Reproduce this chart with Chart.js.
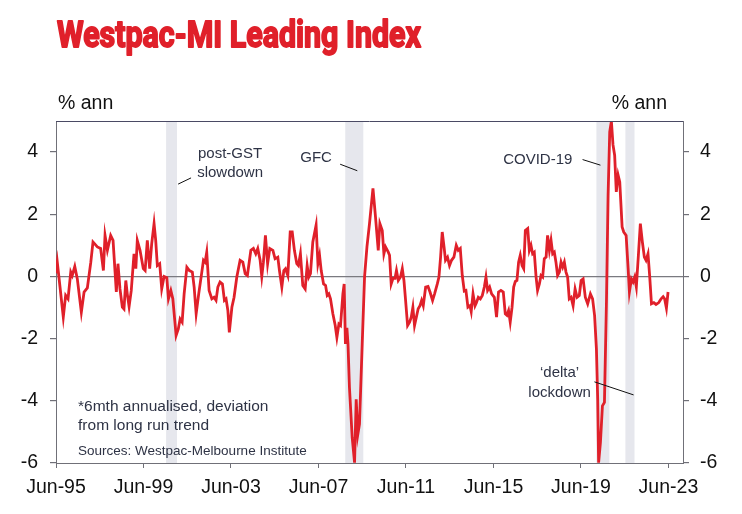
<!DOCTYPE html>
<html><head><meta charset="utf-8">
<script src="https://cdn.jsdelivr.net/npm/chart.js@4.4.1/dist/chart.umd.min.js"></script>
<style>html,body{margin:0;padding:0;background:#fff;}#wrap{position:relative;width:742px;height:514px;}</style>
</head><body><div id="wrap"><canvas id="c" width="742" height="514"></canvas></div>
<script>
// months since Jun-95 (x positions) and index values (% ann)
const monthsSinceJun95 = [
0,0.7,2.2,4.0,5.3,6.6,8.1,8.9,10.3,11.7,
13.9,15.4,17.2,19.1,20.3,22.7,24.5,26.0,26.9,28.2,
30.0,31.3,33.1,34.0,35.1,36.4,37.3,38.3,39.1,40.1,
41.3,42.8,43.8,44.6,46.1,47.9,48.9,50.1,51.4,52.5,
53.8,54.7,55.6,56.9,58.0,59.3,60.8,61.7,63.0,64.1,
65.9,67.1,68.1,69.2,70.3,71.8,73.2,74.8,75.8,76.9,
78.3,80.0,80.9,81.8,82.7,84.0,85.5,86.7,87.8,88.8,
90.0,91.3,92.4,93.3,94.3,95.1,96.5,97.7,99.2,101.0,
102.5,103.8,105.0,106.9,108.3,109.6,110.7,112.0,112.9,113.8,
114.9,116.1,117.3,119.0,120.2,121.7,122.6,123.9,125.0,125.9,
127.2,128.5,129.6,130.8,132.1,133.0,134.1,135.4,136.7,137.8,
138.7,139.6,140.9,142.7,143.7,144.6,145.5,146.8,147.9,148.8,
149.7,150.6,151.9,153.2,154.1,155.2,156.1,157.4,158.1,158.8,
159.6,160.2,161.0,162.5,163.8,164.7,165.6,166.5,168.0,169.3,
170.6,172.0,173.9,175.3,176.8,177.7,179.0,179.9,180.8,182.3,
183.0,183.9,184.9,186.0,186.8,187.8,189.0,190.0,190.9,191.8,
192.9,194.0,194.9,195.8,196.7,197.7,198.7,199.7,200.6,201.5,
202.8,204.1,205.2,206.6,207.7,209.2,210.1,211.0,211.9,212.9,
213.7,214.8,215.9,217.0,218.3,219.6,220.7,221.8,222.9,224.0,
224.9,226.0,227.1,227.8,228.8,229.9,230.6,231.7,232.8,233.9,
235.0,235.9,236.8,237.9,239.0,240.5,241.7,242.8,244.1,245.4,
246.5,247.4,248.3,249.2,250.2,251.1,252.0,252.9,253.8,254.7,
255.7,256.6,257.5,258.8,259.7,260.6,261.5,262.4,263.4,264.2,
265.2,266.1,267.0,267.9,268.9,269.7,270.7,271.6,272.5,273.4,
274.3,275.2,276.2,277.1,278.0,278.9,279.8,280.7,281.6,282.6,
283.7,284.8,285.9,287.1,288.1,289.2,290.4,291.7,293.2,294.4,
295.5,296.5,297.2,297.7,298.7,299.8,300.9,302.0,302.9,303.8,
304.7,305.6,306.5,307.4,308.4,309.3,310.6,311.5,312.8,313.9,
314.6,315.7,316.6,317.5,318.4,319.4,320.6,321.7,322.8,323.7,
324.8,325.7,326.7,328.0,329.2,330.7,332.0,333.1,333.9,334.9,
335.8
];
const leadingIndex = [
0.1,0.46,-0.34,-1.31,-0.61,-0.72,0.14,0.03,0.32,-0.08,
-1.15,-0.5,-0.37,0.46,1.11,0.95,0.9,0.19,1.32,0.84,
1.32,1.16,-0.5,0.41,-0.4,-0.99,-1.05,-0.13,-0.56,-0.97,
-0.45,0.73,0.25,1.16,0.84,0.25,0.19,1.16,0.25,1.05,
1.7,1.16,0.35,0.41,-0.4,0.0,-0.04,-0.72,-0.45,-0.72,
-1.9,-1.69,-1.37,-1.47,-0.56,0.3,0.19,0.14,-0.34,-1.2,
-0.56,0.14,0.52,0.46,0.78,-0.45,-0.72,-0.67,-0.77,-0.34,
-0.18,-0.24,-0.77,-0.72,-1.1,-1.8,-0.99,-0.67,-0.02,0.52,
0.46,0.09,0.03,0.84,0.9,0.73,0.9,0.52,0.0,0.46,
1.32,0.41,0.9,0.84,0.57,0.62,0.19,-0.34,0.19,0.25,
0.03,1.43,1.43,0.84,0.41,0.35,0.73,-0.29,-0.4,0.35,
-0.02,0.09,1.11,1.65,0.41,0.68,0.19,-0.24,-0.29,-0.61,
-0.56,-0.72,-1.2,-1.58,-1.96,-1.53,-1.58,-0.56,-0.24,-2.17,
-1.65,-2.17,-3.57,-5.18,-5.99,-3.95,-5.08,-4.75,-2.17,0.0,
0.95,1.7,2.83,1.91,0.84,1.7,1.48,0.73,0.95,0.78,
0.68,-0.24,-0.06,-0.06,0.19,-0.13,-0.02,0.25,-0.13,-0.77,
-1.58,-1.47,-1.31,-0.99,-1.58,-1.31,-1.04,-0.94,-0.77,-0.94,
-0.34,-0.32,-0.5,-0.77,-0.56,-0.24,-0.02,0.62,1.43,0.95,
0.52,0.62,0.35,0.52,0.62,1.0,0.84,0.9,0.03,-0.47,
-0.45,-0.99,-0.94,-1.13,-0.56,-0.94,-0.85,-0.67,-0.72,-0.61,
-0.34,-0.02,-0.45,-0.34,-0.56,-0.67,-1.31,-0.5,-0.45,-0.5,
-1.2,-1.25,-1.1,-1.47,-0.99,-0.34,-0.16,-0.13,0.46,0.68,
0.35,0.25,1.48,1.54,0.84,1.0,0.73,0.78,-0.02,-0.45,
-0.24,0.03,-0.02,0.57,0.62,1.32,0.84,1.16,0.73,0.78,
0.46,0.03,0.14,0.46,0.3,0.46,0.14,-0.02,-0.72,-0.67,
-0.94,-0.4,-0.67,-0.61,-0.13,-0.08,-0.67,-0.88,-0.56,-0.72,
-1.26,-2.33,-3.95,-5.99,-5.34,-4.16,-4.05,-0.83,2.61,4.65,
5.0,4.23,3.9,2.72,3.26,3.04,1.59,1.43,1.32,0.25,
-0.5,-0.08,-0.18,-0.02,-0.34,0.57,1.7,1.11,0.62,0.52,
0.73,0.03,-0.88,-0.84,-0.9,-0.84,-0.72,-0.65,-0.72,-1.02,
-0.5
];
const tickMonths = [0,48,96,144,192,240,288,336];
const tickLabels = ['Jun-95','Jun-99','Jun-03','Jun-07','Jun-11','Jun-15','Jun-19','Jun-23'];
const yTicks = [-6,-4,-2,0,2,4];
// shaded episodes (months since Jun-95)
const bandStarts = [60.4,158.7,296.5,312.4];
const bandEnds   = [66.4,168.6,303.6,317.4];
const titleText = 'Westpac-MI Leading Index';
const unitText = '% ann';

const RED = '#e0202a';
const AX = '#707078';
const TXT = '#111111';
const ANN = '#2e3345';
const FONT = '"Liberation Sans", Arial, sans-serif';

function txt(ctx, s, x, y, font, color, align){
  ctx.font = font; ctx.fillStyle = color; ctx.textAlign = align || 'center'; ctx.textBaseline = 'middle';
  ctx.fillText(s, x, y);
}
function seg(ctx, x0, y0, x1, y1){
  ctx.strokeStyle = '#111'; ctx.lineWidth = 1; ctx.beginPath(); ctx.moveTo(x0,y0); ctx.lineTo(x1,y1); ctx.stroke();
}

const deco = {
  id: 'deco',
  beforeDraw(chart){
    const {ctx, chartArea:a, scales:{x}} = chart;
    ctx.save();
    ctx.fillStyle = '#e6e7ed';
    bandStarts.forEach((s,i)=>{
      const x0 = x.getPixelForValue(s), x1 = x.getPixelForValue(bandEnds[i]);
      ctx.fillRect(x0, a.top, x1-x0, a.bottom-a.top);
    });
    ctx.restore();
  },
  afterDraw(chart){
    const {ctx, chartArea:a, scales:{x, y}} = chart;
    const X = v => x.getPixelForValue(v), Y = v => y.getPixelForValue(v);
    ctx.save();
    // top frame line
    ctx.strokeStyle = '#4a4a64'; ctx.lineWidth = 1;
    ctx.beginPath(); ctx.moveTo(a.left, a.top+0.5); ctx.lineTo(a.right, a.top+0.5); ctx.stroke();
    // title (heavy, condensed)
    ctx.font = 'bold 36px Roboto, "Liberation Sans", sans-serif';
    ctx.fillStyle = RED; ctx.strokeStyle = RED; ctx.lineWidth = 1.8; ctx.lineJoin = 'round';
    ctx.textAlign = 'left'; ctx.textBaseline = 'alphabetic';
    const w = ctx.measureText(titleText).width;
    ctx.save(); ctx.translate(57, 47); ctx.scale(364/w, 1);
    ctx.fillText(titleText, 0, 0); ctx.strokeText(titleText, 0, 0); ctx.restore();
    // unit labels
    txt(ctx, unitText, a.left+2, a.top-17, '19.5px '+FONT, TXT, 'left');
    txt(ctx, unitText, a.right-16, a.top-17, '19.5px '+FONT, TXT, 'right');
    // annotations
    const f = '15px '+FONT;
    txt(ctx, 'post-GST', X(95.5), Y(3.94), f, ANN);
    txt(ctx, 'slowdown', X(95.5), Y(3.33), f, ANN);
    seg(ctx, X(67.0), Y(2.97), X(74.1), Y(3.17));
    txt(ctx, 'GFC', X(142.7), Y(3.81), f, ANN);
    seg(ctx, X(155.9), Y(3.61), X(165.3), Y(3.40));
    txt(ctx, 'COVID-19', X(264.3), Y(3.74), f, ANN);
    seg(ctx, X(288.9), Y(3.76), X(298.7), Y(3.58));
    txt(ctx, '\u2018delta\u2019', X(276.3), Y(-3.09), f, ANN);
    txt(ctx, 'lockdown', X(276.3), Y(-3.73), f, ANN);
    seg(ctx, X(295.4), Y(-3.39), X(316.9), Y(-3.81));
    // footnotes
    txt(ctx, '*6mth annualised, deviation', X(12.1), Y(-4.19), '15.5px '+FONT, ANN, 'left');
    txt(ctx, 'from long run trend', X(12.1), Y(-4.81), '15.5px '+FONT, ANN, 'left');
    txt(ctx, 'Sources: Westpac-Melbourne Institute', X(12.1), Y(-5.61), '13.5px '+FONT, ANN, 'left');
    ctx.restore();
  }
};

const yAxisCommon = (pos, width, pad) => ({
  type: 'linear', position: pos, min: -6, max: 5,
  afterBuildTicks: s => { s.ticks = yTicks.map(v => ({value: v})); },
  afterFit: s => { s.width = width; },
  border: {display: true, color: AX, width: 1},
  grid: {
    drawOnChartArea: pos === 'left',
    color: c => (c.tick && c.tick.value === 0) ? '#7a7a80' : 'rgba(0,0,0,0)',
    lineWidth: 1.2,
    drawTicks: true, tickLength: 6, tickColor: AX
  },
  ticks: {color: TXT, font: {family: FONT, size: 19.5}, padding: pad, callback: v => String(v)}
});

new Chart(document.getElementById('c'), {
  type: 'line',
  data: {
    datasets: [{
      label: 'Westpac-MI Leading Index',
      data: monthsSinceJun95.map((m,i) => ({x: m, y: leadingIndex[i]})),
      borderColor: RED, borderWidth: 2.8, pointRadius: 0, tension: 0, fill: false
    }]
  },
  options: {
    responsive: false, animation: false, devicePixelRatio: 1,
    layout: {padding: {top: 121, left: 0, right: 0, bottom: 0}},
    plugins: {legend: {display: false}, tooltip: {enabled: false}, title: {display: false}},
    scales: {
      x: {
        type: 'linear', position: 'bottom', min: 0, max: 344,
        afterBuildTicks: s => { s.ticks = tickMonths.map(v => ({value: v})); },
        afterFit: s => { s.height = 51; },
        border: {display: true, color: AX, width: 1},
        grid: {drawOnChartArea: false, drawTicks: true, tickLength: 5, color: AX, tickColor: AX},
        ticks: {color: TXT, font: {family: FONT, size: 19.5}, padding: 8, maxRotation: 0,
          callback: v => tickLabels[tickMonths.indexOf(v)] || ''}
      },
      y: yAxisCommon('left', 56, 12),
      y2: yAxisCommon('right', 59, 11)
    }
  },
  plugins: [deco]
});
</script>
</body></html>
